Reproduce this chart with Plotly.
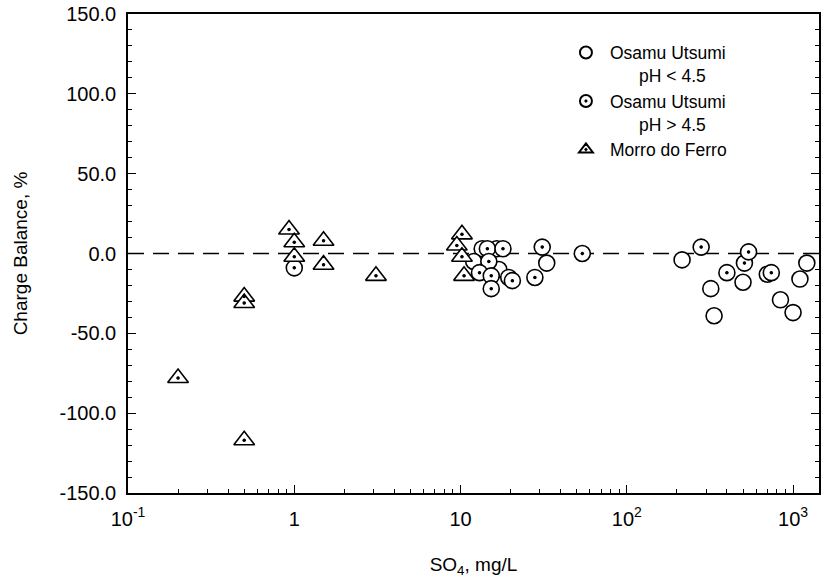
import plotly.graph_objects as go

# --- data ---
mf_x = [0.2, 0.5, 0.5, 0.5, 0.93, 1.0, 1.0, 1.5, 1.5, 3.1, 10.2, 9.5, 10.2, 10.5]
mf_y = [-78, -117, -27, -31, 15, 7, -2, 8, -7, -14, 12, 5, -2, -14]

ou_low_x = [13.5, 16.5, 12, 17, 19.5, 33, 215, 320, 335, 500, 700, 840, 1000, 1100, 1210]
ou_low_y = [3, 3, -5, -10, -15, -6, -4, -22, -39, -18, -13, -29, -37, -16, -6]

ou_high_x = [1.0, 14.5, 18, 14.8, 13, 15.3, 15.3, 20.5, 28, 31, 54, 280, 400, 510, 540, 740]
ou_high_y = [-9, 3, 3, -5, -12, -14, -22, -17, -15, 4, 0, 4, -12, -6, 1, -12]

x_tickvals = [0.1, 1, 10, 100, 1000]
x_ticktext = ["10<sup>-1</sup>", "1", "10", "10<sup>2</sup>", "10<sup>3</sup>"]
x_minor = [m * 10**e for e in range(-1, 4) for m in range(2, 10)]
y_tickvals = [-150, -100, -50, 0, 50, 100, 150]
y_ticktext = ["-150.0", "-100.0", "-50.0", "0.0", "50.0", "100.0", "150.0"]

sp = "&nbsp;" * 6
names = ["Osamu Utsumi<br>" + sp + "pH < 4.5",
         "Osamu Utsumi<br>" + sp + "pH > 4.5",
         "Morro do Ferro"]

FONT = "Liberation Sans, Arial, Helvetica, sans-serif"
LW = 1.6

fig = go.Figure()
fig.add_trace(go.Scatter(
    x=ou_low_x, y=ou_low_y, mode="markers", name=names[0],
    marker=dict(symbol="circle", size=16, color="white",
                line=dict(color="black", width=LW))))
fig.add_trace(go.Scatter(
    x=ou_high_x, y=ou_high_y, mode="markers", name=names[1],
    marker=dict(symbol="circle-dot", size=16, color="white",
                line=dict(color="black", width=LW))))
fig.add_trace(go.Scatter(
    x=ou_high_x, y=ou_high_y, mode="markers", showlegend=False, hoverinfo="skip",
    marker=dict(symbol="circle", size=3.5, color="black")))
fig.add_trace(go.Scatter(
    x=mf_x, y=mf_y, mode="markers", name=names[2],
    marker=dict(symbol="triangle-up-dot", size=18, color="white",
                line=dict(color="black", width=LW))))
fig.add_trace(go.Scatter(
    x=mf_x, y=mf_y, mode="markers", showlegend=False, hoverinfo="skip",
    marker=dict(symbol="circle", size=3.5, color="black")))

fig.add_hline(y=0, line=dict(color="black", width=1.5, dash="16px,9px"), layer="below")

fig.update_layout(
    width=821, height=588,
    margin=dict(l=128, r=2, t=14, b=95),
    paper_bgcolor="white", plot_bgcolor="white",
    font=dict(family=FONT, size=20, color="black"),
    showlegend=True,
    legend=dict(x=0.628, y=0.957, xanchor="left", yanchor="top",
                bgcolor="rgba(0,0,0,0)", itemsizing="constant",
                valign="top", font=dict(size=17.5), itemwidth=38),
)
fig.update_xaxes(
    type="log", range=[-1, 3.156], automargin=False,
    tickmode="array", tickvals=x_tickvals, ticktext=x_ticktext,
    ticks="inside", ticklen=8, tickcolor="black",
    minor=dict(tickvals=x_minor, ticks="inside", ticklen=4, tickcolor="black"),
    showline=True, linecolor="black", linewidth=1.5, mirror=True,
    showgrid=False, zeroline=False, ticklabelstandoff=7,
    title=dict(text="SO<sub>4</sub>, mg/L", standoff=29, font=dict(size=19)),
)
fig.update_yaxes(
    range=[-150, 150], automargin=False,
    tickmode="array", tickvals=y_tickvals, ticktext=y_ticktext,
    ticks="inside", ticklen=8, tickcolor="black",
    minor=dict(dtick=10, ticks="inside", ticklen=4, tickcolor="black"),
    showline=True, linecolor="black", linewidth=1.5, mirror="ticks",
    showgrid=False, zeroline=False, ticklabelstandoff=6,
    title=dict(text="Charge Balance, %", standoff=27, font=dict(size=19)),
)

# remove the browser's default 8px body margin so the figure fills the window
fig.write_html("out.html", config={"displayModeBar": False},
               post_script="document.body.style.margin='0px';")
